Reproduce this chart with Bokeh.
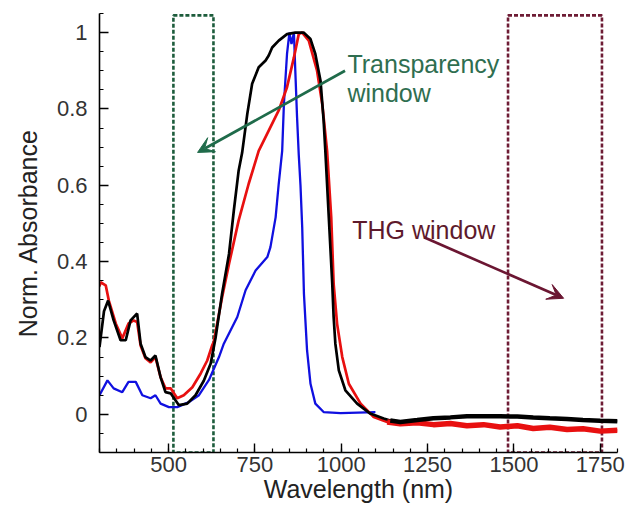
from bokeh.plotting import figure
from bokeh.models import Range1d, FixedTicker, Arrow, VeeHead, Label
from bokeh.embed import file_html
from bokeh.resources import INLINE

# ---------------- data ----------------
wl_black = [300, 313, 325, 341, 361, 376, 390, 409, 419, 433, 448, 462, 477, 491, 506,
            530, 554, 578, 602, 622, 636, 655, 675, 689, 703, 713, 728, 742, 761, 781,
            790, 800, 819, 843, 867, 891, 911, 925, 940, 949, 954, 964, 974, 978, 983,
            993, 1012, 1046, 1084, 1123, 1142, 1171, 1220, 1267, 1316, 1364, 1412, 1460,
            1510, 1556, 1604, 1654, 1700, 1750, 1800]
abs_black = [0.176, 0.27, 0.298, 0.246, 0.194, 0.194, 0.246, 0.264, 0.185, 0.15, 0.141, 0.154, 0.097, 0.058, 0.055,
             0.024, 0.028, 0.05, 0.088, 0.133, 0.2, 0.316, 0.42, 0.534, 0.639, 0.685, 0.787, 0.866, 0.909, 0.927,
             0.94, 0.961, 0.979, 0.996, 1.0, 1.0, 0.983, 0.944, 0.874, 0.77, 0.69, 0.516, 0.342, 0.255, 0.185,
             0.115, 0.063, 0.028, 0.002, -0.011, -0.016, -0.02, -0.015, -0.01, -0.008, -0.005, -0.005, -0.005,
             -0.006, -0.008, -0.01, -0.012, -0.015, -0.017, -0.018]

wl_red = [300, 303, 318, 327, 347, 366, 384, 399, 409, 419, 433, 448, 462, 477, 491, 506,
          525, 544, 569, 593, 612, 626, 631, 655, 675, 703, 732, 761, 790, 819, 843, 863,
          877, 887, 906, 930, 945, 959, 971, 978, 988, 1003, 1022, 1056, 1094, 1133, 1171,
          1220, 1267, 1316, 1364, 1412, 1460, 1510, 1556, 1604, 1654, 1700, 1750, 1800]
abs_red = [0.335, 0.346, 0.338, 0.298, 0.238, 0.199, 0.238, 0.246, 0.242, 0.18, 0.147, 0.136, 0.15, 0.097, 0.068, 0.068,
           0.042, 0.05, 0.071, 0.107, 0.141, 0.18, 0.19, 0.307, 0.394, 0.508, 0.604, 0.69, 0.743, 0.796, 0.857, 0.935,
           0.996, 1.0, 0.979, 0.9, 0.813, 0.69, 0.516, 0.342, 0.237, 0.15, 0.08, 0.028, -0.007, -0.02, -0.025,
           -0.022, -0.027, -0.024, -0.03, -0.027, -0.033, -0.03, -0.037, -0.034, -0.04, -0.038, -0.044, -0.042]

wl_blue = [300, 323, 341, 366, 384, 405, 424, 448, 462, 477, 501, 525, 559, 588, 617, 646,
           660, 699, 723, 752, 786, 795, 810, 819, 829, 834, 843, 850, 856, 863, 867, 872,
           877, 882, 887, 892, 901, 911, 925, 949, 998, 1099]
abs_blue = [0.05, 0.089, 0.068, 0.058, 0.085, 0.085, 0.05, 0.042, 0.05, 0.028, 0.019, 0.019, 0.032, 0.05, 0.09, 0.15,
            0.185, 0.255, 0.325, 0.377, 0.412, 0.438, 0.516, 0.604, 0.69, 0.813, 0.944, 1.0, 0.97, 1.0, 0.9, 0.78,
            0.68, 0.6, 0.49, 0.316, 0.168, 0.08, 0.028, 0.006, 0.003, 0.006]

transparency_window = [514, 630]   # nm
thg_window = [1483, 1755]          # nm

x_ticks = [500, 750, 1000, 1250, 1500, 1750]
x_minor = list(range(300, 1801, 50))
y_ticks = [0, 0.2, 0.4, 0.6, 0.8, 1]
y_tick_labels = ["0", "0.2", "0.4", "0.6", "0.8", "1"]
y_minor = [round(-0.1 + 0.05 * i, 2) for i in range(24)]

# ---------------- figure ----------------
FONT = "Liberation Sans"
p = figure(width=625, height=512, output_backend="svg", toolbar_location=None,
           x_range=Range1d(300, 1800), y_range=Range1d(-0.1, 1.05),
           min_border_left=99, min_border_right=8, min_border_top=13, min_border_bottom=60)
p.outline_line_color = None
p.xgrid.visible = False
p.ygrid.visible = False
p.background_fill_color = "white"

for ax in (p.xaxis[0], p.yaxis[0]):
    ax.axis_line_width = 1.6
    ax.axis_line_color = "black"
    ax.major_tick_in = 9
    ax.major_tick_out = 0
    ax.minor_tick_in = 4
    ax.minor_tick_out = 0
    ax.major_tick_line_width = 1.4
    ax.minor_tick_line_width = 1.2
    ax.major_tick_line_color = "black"
    ax.minor_tick_line_color = "black"
    ax.major_label_text_font = FONT
    ax.major_label_text_font_size = "22px"
    ax.major_label_text_color = "#333333"
    ax.axis_label_text_font = FONT
    ax.axis_label_text_font_size = "25px"
    ax.axis_label_text_font_style = "normal"
    ax.axis_label_text_color = "#222222"

p.xaxis.ticker = FixedTicker(ticks=x_ticks, minor_ticks=x_minor)
p.yaxis.ticker = FixedTicker(ticks=y_ticks, minor_ticks=y_minor)
p.yaxis.major_label_overrides = dict(zip(y_ticks, y_tick_labels))
p.xaxis.axis_label = "Wavelength (nm)"
p.yaxis.axis_label = "Norm. Absorbance"
p.xaxis.major_label_standoff = 4
p.xaxis.axis_label_standoff = 0
p.yaxis.major_label_standoff = 12
p.yaxis.axis_label_standoff = 12

# dashed windows
p.quad(left=[transparency_window[0]], right=[transparency_window[1]], bottom=[-0.1], top=[1.045],
       fill_color=None, line_color="#1d5c3c", line_width=2.6, line_dash="4 2")
p.quad(left=[thg_window[0]], right=[thg_window[1]], bottom=[-0.1], top=[1.045],
       fill_color=None, line_color="#6e1c35", line_width=2.6, line_dash="4 2")

# spectra
p.line(wl_blue, abs_blue, line_color="#1010e0", line_width=2.3)
p.line(wl_red, abs_red, line_color="#e81010", line_width=2.7)
p.line(wl_black, abs_black, line_color="black", line_width=2.7)
# thicker noisy tails
p.line(wl_red[45:], abs_red[45:], line_color="#e81010", line_width=5.5)
p.line(wl_black[50:], abs_black[50:], line_color="black", line_width=4.5)

# arrows
p.add_layout(Arrow(end=VeeHead(size=16, fill_color="#1f6b4a", line_color="#1f6b4a"),
                   x_start=1011, y_start=0.90, x_end=584, y_end=0.686,
                   line_color="#1f6b4a", line_width=2.7))
p.add_layout(Arrow(end=VeeHead(size=16, fill_color="#6b1632", line_color="#6b1632"),
                   x_start=1241, y_start=0.463, x_end=1644, y_end=0.304,
                   line_color="#6b1632", line_width=2.7))

# annotation texts
for txt, xx, yy, col in [("Transparency", 1018, 0.919, "#2f6e50"),
                         ("window", 1018, 0.843, "#2f6e50"),
                         ("THG window", 1032, 0.484, "#5e1a2c")]:
    p.add_layout(Label(x=xx, y=yy, text=txt, text_font=FONT, text_font_size="25px",
                       text_color=col, text_baseline="alphabetic", text_align="left"))

open("out.html", "w").write(file_html(p, INLINE))
